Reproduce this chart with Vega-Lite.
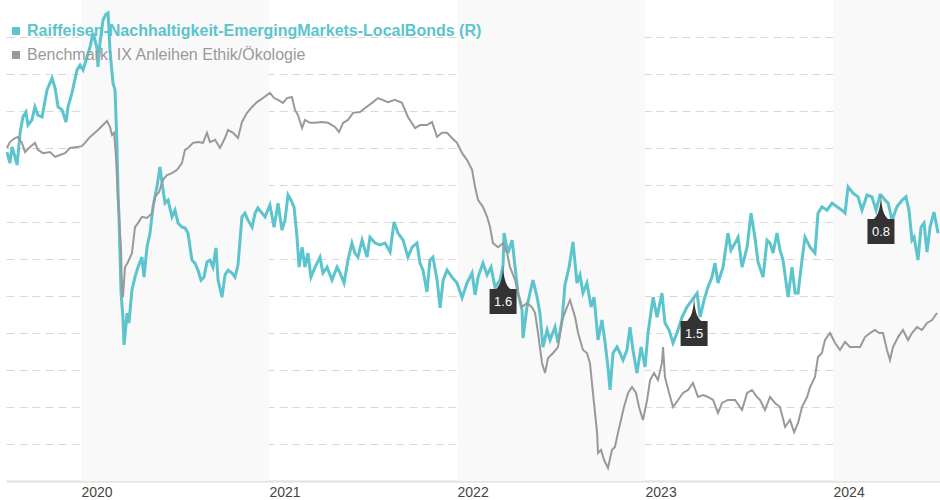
{
  "$schema": "https://vega.github.io/schema/vega-lite/v6.json",
  "width": 934,
  "height": 481,
  "autosize": {"type": "none"},
  "padding": {"left": 6, "top": 0, "right": 0, "bottom": 19},
  "background": "#ffffff",
  "config": {"view": {"stroke": null}, "font": "Liberation Sans"},
  "datasets": {
    "bands": [{"start": 2020, "end": 2021}, {"start": 2022, "end": 2023}, {"start": 2024, "end": 2025}],
    "flags": [{"t": 2022.245, "v": 58.4, "label": "1.6"}, {"t": 2023.261, "v": 49.7, "label": "1.5"}, {"t": 2024.255, "v": 77.3, "label": "0.8"}],
    "fund": [
      {"t":2019.606,"v":88.9},{"t":2019.622,"v":85.9},{"t":2019.633,"v":90.3},{"t":2019.649,"v":87.6},{"t":2019.660,"v":85.4},{"t":2019.676,"v":94.1},{"t":2019.691,"v":98.4},{"t":2019.707,"v":99.7},{"t":2019.718,"v":96.2},{"t":2019.739,"v":97.6},{"t":2019.755,"v":101.1},{"t":2019.771,"v":98.9},{"t":2019.793,"v":98.4},{"t":2019.819,"v":105.7},{"t":2019.846,"v":108.9},{"t":2019.862,"v":106.2},{"t":2019.878,"v":101.1},{"t":2019.899,"v":100.3},{"t":2019.920,"v":97.0},{"t":2019.931,"v":101.1},{"t":2019.952,"v":104.9},{"t":2019.979,"v":111.1},{"t":2019.995,"v":112.4},{"t":2020.011,"v":111.1},{"t":2020.032,"v":114.6},{"t":2020.048,"v":117.3},{"t":2020.064,"v":121.1},{"t":2020.085,"v":117.0},{"t":2020.090,"v":111.9},{"t":2020.101,"v":118.4},{"t":2020.117,"v":124.6},{"t":2020.133,"v":126.2},{"t":2020.144,"v":126.5},{"t":2020.154,"v":116.5},{"t":2020.170,"v":107.6},{"t":2020.181,"v":105.7},{"t":2020.191,"v":91.4},{"t":2020.197,"v":77.8},{"t":2020.202,"v":71.4},{"t":2020.213,"v":50.8},{"t":2020.223,"v":44.3},{"t":2020.229,"v":36.8},{"t":2020.245,"v":45.4},{"t":2020.255,"v":42.7},{"t":2020.271,"v":51.6},{"t":2020.287,"v":55.1},{"t":2020.303,"v":57.8},{"t":2020.324,"v":60.5},{"t":2020.335,"v":55.1},{"t":2020.351,"v":63.2},{"t":2020.367,"v":67.0},{"t":2020.383,"v":74.1},{"t":2020.404,"v":79.5},{"t":2020.420,"v":84.9},{"t":2020.431,"v":80.5},{"t":2020.447,"v":75.1},{"t":2020.463,"v":75.9},{"t":2020.484,"v":71.4},{"t":2020.500,"v":73.2},{"t":2020.516,"v":69.7},{"t":2020.537,"v":68.6},{"t":2020.553,"v":68.4},{"t":2020.569,"v":67.0},{"t":2020.590,"v":59.7},{"t":2020.606,"v":58.9},{"t":2020.622,"v":57.0},{"t":2020.638,"v":54.3},{"t":2020.654,"v":55.1},{"t":2020.670,"v":59.2},{"t":2020.686,"v":59.7},{"t":2020.702,"v":57.8},{"t":2020.718,"v":63.0},{"t":2020.729,"v":54.3},{"t":2020.750,"v":49.7},{"t":2020.766,"v":55.7},{"t":2020.782,"v":57.0},{"t":2020.803,"v":56.2},{"t":2020.819,"v":55.1},{"t":2020.835,"v":58.4},{"t":2020.856,"v":71.4},{"t":2020.872,"v":72.4},{"t":2020.888,"v":70.5},{"t":2020.910,"v":68.6},{"t":2020.926,"v":72.4},{"t":2020.941,"v":73.8},{"t":2020.963,"v":72.4},{"t":2020.979,"v":71.4},{"t":2021.005,"v":74.6},{"t":2021.027,"v":68.6},{"t":2021.048,"v":75.1},{"t":2021.069,"v":67.8},{"t":2021.085,"v":70.5},{"t":2021.101,"v":77.3},{"t":2021.117,"v":75.9},{"t":2021.133,"v":74.1},{"t":2021.149,"v":65.9},{"t":2021.160,"v":57.8},{"t":2021.176,"v":63.2},{"t":2021.191,"v":57.8},{"t":2021.207,"v":61.6},{"t":2021.223,"v":55.1},{"t":2021.245,"v":57.8},{"t":2021.271,"v":60.5},{"t":2021.287,"v":56.2},{"t":2021.309,"v":57.8},{"t":2021.335,"v":54.3},{"t":2021.362,"v":57.8},{"t":2021.378,"v":56.2},{"t":2021.399,"v":53.5},{"t":2021.420,"v":59.7},{"t":2021.441,"v":64.3},{"t":2021.457,"v":61.6},{"t":2021.473,"v":60.5},{"t":2021.495,"v":65.1},{"t":2021.521,"v":60.5},{"t":2021.537,"v":65.9},{"t":2021.564,"v":64.3},{"t":2021.590,"v":63.8},{"t":2021.617,"v":64.3},{"t":2021.644,"v":61.9},{"t":2021.665,"v":70.0},{"t":2021.686,"v":67.0},{"t":2021.713,"v":65.1},{"t":2021.739,"v":60.5},{"t":2021.761,"v":63.2},{"t":2021.787,"v":64.3},{"t":2021.803,"v":58.9},{"t":2021.819,"v":57.0},{"t":2021.840,"v":51.1},{"t":2021.856,"v":59.7},{"t":2021.872,"v":60.5},{"t":2021.894,"v":54.3},{"t":2021.910,"v":46.8},{"t":2021.926,"v":54.3},{"t":2021.947,"v":57.0},{"t":2021.973,"v":55.1},{"t":2022.000,"v":53.5},{"t":2022.027,"v":49.5},{"t":2022.053,"v":53.5},{"t":2022.080,"v":56.2},{"t":2022.096,"v":50.3},{"t":2022.112,"v":55.1},{"t":2022.138,"v":58.9},{"t":2022.160,"v":55.7},{"t":2022.181,"v":57.8},{"t":2022.202,"v":52.4},{"t":2022.229,"v":54.3},{"t":2022.245,"v":58.4},{"t":2022.250,"v":67.0},{"t":2022.271,"v":61.6},{"t":2022.293,"v":65.1},{"t":2022.309,"v":57.8},{"t":2022.324,"v":50.8},{"t":2022.346,"v":46.2},{"t":2022.351,"v":38.6},{"t":2022.372,"v":47.0},{"t":2022.388,"v":50.8},{"t":2022.404,"v":54.3},{"t":2022.426,"v":49.7},{"t":2022.441,"v":45.4},{"t":2022.457,"v":36.2},{"t":2022.479,"v":40.8},{"t":2022.495,"v":38.1},{"t":2022.521,"v":41.6},{"t":2022.537,"v":37.3},{"t":2022.559,"v":43.5},{"t":2022.574,"v":53.0},{"t":2022.596,"v":57.8},{"t":2022.617,"v":64.6},{"t":2022.638,"v":53.5},{"t":2022.654,"v":55.7},{"t":2022.670,"v":50.8},{"t":2022.691,"v":53.5},{"t":2022.713,"v":47.0},{"t":2022.729,"v":49.7},{"t":2022.750,"v":38.1},{"t":2022.771,"v":43.5},{"t":2022.787,"v":37.6},{"t":2022.803,"v":30.8},{"t":2022.814,"v":24.6},{"t":2022.830,"v":34.6},{"t":2022.851,"v":36.2},{"t":2022.867,"v":34.6},{"t":2022.883,"v":32.7},{"t":2022.904,"v":35.4},{"t":2022.920,"v":41.6},{"t":2022.936,"v":35.4},{"t":2022.957,"v":29.2},{"t":2022.979,"v":36.2},{"t":2023.000,"v":30.8},{"t":2023.016,"v":40.0},{"t":2023.043,"v":49.7},{"t":2023.064,"v":44.3},{"t":2023.090,"v":50.8},{"t":2023.106,"v":42.7},{"t":2023.128,"v":40.8},{"t":2023.149,"v":37.3},{"t":2023.170,"v":40.0},{"t":2023.197,"v":44.3},{"t":2023.223,"v":47.0},{"t":2023.250,"v":48.9},{"t":2023.261,"v":49.7},{"t":2023.277,"v":50.8},{"t":2023.293,"v":44.3},{"t":2023.314,"v":48.9},{"t":2023.335,"v":52.4},{"t":2023.356,"v":55.1},{"t":2023.372,"v":58.9},{"t":2023.388,"v":53.5},{"t":2023.415,"v":57.8},{"t":2023.441,"v":67.0},{"t":2023.457,"v":62.4},{"t":2023.479,"v":64.3},{"t":2023.495,"v":65.9},{"t":2023.516,"v":57.8},{"t":2023.543,"v":63.2},{"t":2023.564,"v":72.4},{"t":2023.585,"v":65.7},{"t":2023.601,"v":59.2},{"t":2023.628,"v":55.1},{"t":2023.649,"v":65.1},{"t":2023.665,"v":64.3},{"t":2023.681,"v":61.6},{"t":2023.702,"v":67.0},{"t":2023.718,"v":62.4},{"t":2023.734,"v":59.7},{"t":2023.761,"v":49.7},{"t":2023.782,"v":57.8},{"t":2023.798,"v":50.8},{"t":2023.814,"v":50.8},{"t":2023.835,"v":59.7},{"t":2023.851,"v":65.9},{"t":2023.878,"v":63.2},{"t":2023.904,"v":61.6},{"t":2023.920,"v":72.4},{"t":2023.941,"v":74.1},{"t":2023.968,"v":73.2},{"t":2023.995,"v":75.1},{"t":2024.021,"v":74.1},{"t":2024.048,"v":73.2},{"t":2024.064,"v":72.4},{"t":2024.080,"v":79.5},{"t":2024.106,"v":77.8},{"t":2024.133,"v":76.8},{"t":2024.154,"v":73.2},{"t":2024.181,"v":77.3},{"t":2024.207,"v":76.8},{"t":2024.229,"v":73.2},{"t":2024.250,"v":77.3},{"t":2024.255,"v":77.3},{"t":2024.277,"v":75.9},{"t":2024.293,"v":75.1},{"t":2024.314,"v":70.5},{"t":2024.340,"v":74.1},{"t":2024.367,"v":75.9},{"t":2024.388,"v":76.8},{"t":2024.404,"v":73.2},{"t":2024.420,"v":65.1},{"t":2024.431,"v":65.9},{"t":2024.452,"v":59.7},{"t":2024.468,"v":68.6},{"t":2024.484,"v":69.7},{"t":2024.500,"v":61.9},{"t":2024.516,"v":68.6},{"t":2024.537,"v":72.7},{"t":2024.559,"v":67.0}
    ],
    "bench": [
      {"t":2019.606,"v":90.0},{"t":2019.622,"v":91.6},{"t":2019.649,"v":92.7},{"t":2019.665,"v":93.0},{"t":2019.686,"v":91.4},{"t":2019.702,"v":88.9},{"t":2019.729,"v":90.3},{"t":2019.755,"v":91.4},{"t":2019.771,"v":89.5},{"t":2019.798,"v":88.6},{"t":2019.835,"v":88.9},{"t":2019.862,"v":87.6},{"t":2019.888,"v":88.1},{"t":2019.915,"v":88.6},{"t":2019.941,"v":90.0},{"t":2019.979,"v":90.3},{"t":2020.005,"v":90.5},{"t":2020.021,"v":91.4},{"t":2020.048,"v":93.0},{"t":2020.074,"v":94.1},{"t":2020.101,"v":95.4},{"t":2020.117,"v":96.2},{"t":2020.138,"v":97.3},{"t":2020.154,"v":95.7},{"t":2020.165,"v":93.5},{"t":2020.176,"v":94.1},{"t":2020.186,"v":87.6},{"t":2020.197,"v":75.9},{"t":2020.213,"v":62.4},{"t":2020.218,"v":51.6},{"t":2020.223,"v":49.7},{"t":2020.234,"v":57.8},{"t":2020.250,"v":59.2},{"t":2020.271,"v":61.6},{"t":2020.287,"v":68.6},{"t":2020.303,"v":69.7},{"t":2020.324,"v":71.4},{"t":2020.351,"v":71.1},{"t":2020.378,"v":72.4},{"t":2020.394,"v":76.8},{"t":2020.415,"v":78.1},{"t":2020.436,"v":81.4},{"t":2020.457,"v":82.7},{"t":2020.484,"v":83.2},{"t":2020.511,"v":84.1},{"t":2020.537,"v":85.9},{"t":2020.553,"v":89.5},{"t":2020.569,"v":90.0},{"t":2020.596,"v":91.4},{"t":2020.622,"v":91.6},{"t":2020.649,"v":91.4},{"t":2020.670,"v":94.1},{"t":2020.686,"v":91.6},{"t":2020.713,"v":92.2},{"t":2020.739,"v":90.0},{"t":2020.766,"v":92.7},{"t":2020.782,"v":94.9},{"t":2020.809,"v":94.1},{"t":2020.835,"v":92.7},{"t":2020.856,"v":97.0},{"t":2020.883,"v":99.5},{"t":2020.910,"v":101.1},{"t":2020.936,"v":102.4},{"t":2020.968,"v":103.5},{"t":2021.005,"v":104.9},{"t":2021.027,"v":103.5},{"t":2021.048,"v":103.0},{"t":2021.074,"v":102.2},{"t":2021.096,"v":103.5},{"t":2021.122,"v":103.8},{"t":2021.138,"v":100.3},{"t":2021.154,"v":98.9},{"t":2021.176,"v":95.4},{"t":2021.191,"v":97.6},{"t":2021.218,"v":96.8},{"t":2021.245,"v":96.8},{"t":2021.282,"v":97.0},{"t":2021.314,"v":96.8},{"t":2021.351,"v":95.7},{"t":2021.372,"v":94.3},{"t":2021.394,"v":96.8},{"t":2021.420,"v":97.6},{"t":2021.447,"v":99.5},{"t":2021.484,"v":99.7},{"t":2021.511,"v":100.8},{"t":2021.548,"v":102.2},{"t":2021.580,"v":103.5},{"t":2021.633,"v":102.4},{"t":2021.670,"v":103.0},{"t":2021.707,"v":102.2},{"t":2021.739,"v":98.4},{"t":2021.777,"v":95.4},{"t":2021.803,"v":96.2},{"t":2021.840,"v":96.2},{"t":2021.867,"v":97.0},{"t":2021.894,"v":93.0},{"t":2021.920,"v":94.1},{"t":2021.947,"v":94.1},{"t":2021.973,"v":92.7},{"t":2022.000,"v":91.4},{"t":2022.027,"v":88.6},{"t":2022.053,"v":86.8},{"t":2022.080,"v":84.1},{"t":2022.096,"v":79.5},{"t":2022.112,"v":75.9},{"t":2022.138,"v":74.1},{"t":2022.160,"v":71.4},{"t":2022.176,"v":68.6},{"t":2022.191,"v":64.3},{"t":2022.218,"v":63.2},{"t":2022.245,"v":64.3},{"t":2022.266,"v":61.6},{"t":2022.282,"v":57.8},{"t":2022.309,"v":54.3},{"t":2022.324,"v":50.8},{"t":2022.346,"v":47.0},{"t":2022.372,"v":48.1},{"t":2022.399,"v":47.0},{"t":2022.415,"v":45.4},{"t":2022.431,"v":40.0},{"t":2022.452,"v":31.9},{"t":2022.468,"v":29.2},{"t":2022.484,"v":33.2},{"t":2022.511,"v":34.6},{"t":2022.537,"v":36.2},{"t":2022.559,"v":43.5},{"t":2022.585,"v":47.0},{"t":2022.601,"v":48.9},{"t":2022.628,"v":44.3},{"t":2022.644,"v":40.0},{"t":2022.670,"v":35.4},{"t":2022.691,"v":34.6},{"t":2022.707,"v":31.9},{"t":2022.723,"v":23.8},{"t":2022.745,"v":13.0},{"t":2022.750,"v":7.6},{"t":2022.766,"v":8.4},{"t":2022.782,"v":5.7},{"t":2022.803,"v":3.5},{"t":2022.824,"v":8.4},{"t":2022.840,"v":9.2},{"t":2022.856,"v":13.0},{"t":2022.872,"v":16.5},{"t":2022.888,"v":20.0},{"t":2022.910,"v":23.8},{"t":2022.931,"v":25.4},{"t":2022.952,"v":23.8},{"t":2022.968,"v":20.0},{"t":2022.989,"v":16.5},{"t":2023.011,"v":21.9},{"t":2023.027,"v":27.3},{"t":2023.048,"v":29.2},{"t":2023.069,"v":27.3},{"t":2023.090,"v":31.9},{"t":2023.096,"v":36.2},{"t":2023.106,"v":28.1},{"t":2023.128,"v":23.8},{"t":2023.149,"v":20.0},{"t":2023.176,"v":21.9},{"t":2023.202,"v":23.8},{"t":2023.229,"v":24.6},{"t":2023.255,"v":26.5},{"t":2023.282,"v":22.7},{"t":2023.309,"v":23.2},{"t":2023.335,"v":22.7},{"t":2023.362,"v":21.9},{"t":2023.388,"v":18.4},{"t":2023.410,"v":21.1},{"t":2023.441,"v":21.9},{"t":2023.479,"v":21.9},{"t":2023.516,"v":19.2},{"t":2023.543,"v":23.8},{"t":2023.569,"v":24.6},{"t":2023.596,"v":22.7},{"t":2023.612,"v":21.9},{"t":2023.638,"v":19.2},{"t":2023.665,"v":22.7},{"t":2023.691,"v":21.1},{"t":2023.718,"v":20.0},{"t":2023.745,"v":14.6},{"t":2023.771,"v":16.5},{"t":2023.793,"v":13.2},{"t":2023.814,"v":15.7},{"t":2023.835,"v":20.0},{"t":2023.862,"v":22.7},{"t":2023.878,"v":25.4},{"t":2023.904,"v":28.1},{"t":2023.920,"v":33.5},{"t":2023.941,"v":34.6},{"t":2023.957,"v":38.1},{"t":2023.984,"v":40.0},{"t":2024.011,"v":37.3},{"t":2024.037,"v":35.4},{"t":2024.064,"v":37.6},{"t":2024.090,"v":36.2},{"t":2024.117,"v":36.2},{"t":2024.144,"v":36.2},{"t":2024.170,"v":38.9},{"t":2024.197,"v":40.0},{"t":2024.223,"v":40.8},{"t":2024.245,"v":40.0},{"t":2024.266,"v":40.0},{"t":2024.287,"v":35.4},{"t":2024.303,"v":32.7},{"t":2024.319,"v":36.2},{"t":2024.346,"v":38.9},{"t":2024.372,"v":40.8},{"t":2024.399,"v":38.1},{"t":2024.420,"v":40.0},{"t":2024.447,"v":41.6},{"t":2024.473,"v":40.8},{"t":2024.500,"v":42.7},{"t":2024.527,"v":43.5},{"t":2024.553,"v":45.4}
    ]
  },
  "layer": [
    {
      "data": {"name": "bands"},
      "mark": {"type": "rect", "color": "#f9f9f9", "clip": true},
      "encoding": {
        "x": {
          "field": "start", "type": "quantitative",
          "scale": {"domain": [2019.601, 2024.569], "nice": false, "zero": false},
          "axis": {
            "values": [2020, 2021, 2022, 2023, 2024], "format": "d", "title": null,
            "labelAlign": "left", "labelPadding": 4, "labelFontSize": 14, "labelColor": "#444444",
            "labelFont": "Liberation Sans", "ticks": false, "grid": false,
            "domain": true, "domainColor": "#e2e2e2", "domainWidth": 2
          }
        },
        "x2": {"field": "end"}
      }
    },
    {
      "data": {"name": "fund"},
      "mark": {"type": "line", "strokeWidth": 3, "interpolate": "linear"},
      "encoding": {
        "x": {"field": "t", "type": "quantitative"},
        "y": {
          "field": "v", "type": "quantitative",
          "scale": {"domain": [0, 130], "nice": false, "zero": false},
          "axis": {
            "values": [0, 10, 20, 30, 40, 50, 60, 70, 80, 90, 100, 110, 120],
            "title": null, "labels": false, "ticks": false, "domain": false,
            "grid": true, "gridDash": [8, 5], "gridColor": "#d8d8d8", "gridWidth": 1
          }
        },
        "color": {
          "datum": "Raiffeisen-Nachhaltigkeit-EmergingMarkets-LocalBonds (R)",
          "scale": {
            "domain": ["Raiffeisen-Nachhaltigkeit-EmergingMarkets-LocalBonds (R)", "Benchmark: IX Anleihen Ethik/Ökologie"],
            "range": ["#5bc4cc", "#999999"]
          },
          "legend": {
            "title": null, "orient": "none", "legendX": 2, "legendY": 23, "padding": 0,
            "symbolType": "square", "symbolSize": 64, "symbolStrokeWidth": 0,
            "labelFontSize": 16, "labelFont": "Liberation Sans", "labelOffset": 3, "rowPadding": 8,
            "labelLimit": 800,
            "encode": {
              "labels": {"update": {
                "fill": {"signal": "datum.value === 'Benchmark: IX Anleihen Ethik/Ökologie' ? '#999999' : '#5bc4cc'"},
                "fontWeight": {"signal": "datum.value === 'Benchmark: IX Anleihen Ethik/Ökologie' ? 'normal' : 'bold'"}
              }},
              "symbols": {"update": {
                "fill": {"signal": "datum.value === 'Benchmark: IX Anleihen Ethik/Ökologie' ? '#999999' : '#5bc4cc'"},
                "stroke": {"value": "transparent"},
                "shape": {"value": "square"},
                "size": {"value": 64},
                "opacity": {"value": 1}
              }}
            }
          }
        }
      }
    },
    {
      "data": {"name": "bench"},
      "mark": {"type": "line", "strokeWidth": 2, "interpolate": "linear"},
      "encoding": {
        "x": {"field": "t", "type": "quantitative"},
        "y": {"field": "v", "type": "quantitative"},
        "color": {"datum": "Benchmark: IX Anleihen Ethik/Ökologie"}
      }
    },
    {
      "data": {"name": "flags"},
      "mark": {
        "type": "point", "filled": true, "color": "#333333", "opacity": 1, "size": 2500, "strokeWidth": 0,
        "shape": "M0,0 C0.02,0.5 0.1,0.8 0.28,0.96 L0.54,0.96 L0.54,1.96 L-0.54,1.96 L-0.54,0.96 L-0.28,0.96 C-0.1,0.8 -0.02,0.5 0,0 Z"
      },
      "encoding": {
        "x": {"field": "t", "type": "quantitative"},
        "y": {"field": "v", "type": "quantitative"}
      }
    },
    {
      "data": {"name": "flags"},
      "mark": {"type": "text", "color": "#ffffff", "fontSize": 13, "font": "Liberation Sans", "align": "center", "baseline": "middle", "dy": 37},
      "encoding": {
        "x": {"field": "t", "type": "quantitative"},
        "y": {"field": "v", "type": "quantitative"},
        "text": {"field": "label"}
      }
    }
  ]
}
